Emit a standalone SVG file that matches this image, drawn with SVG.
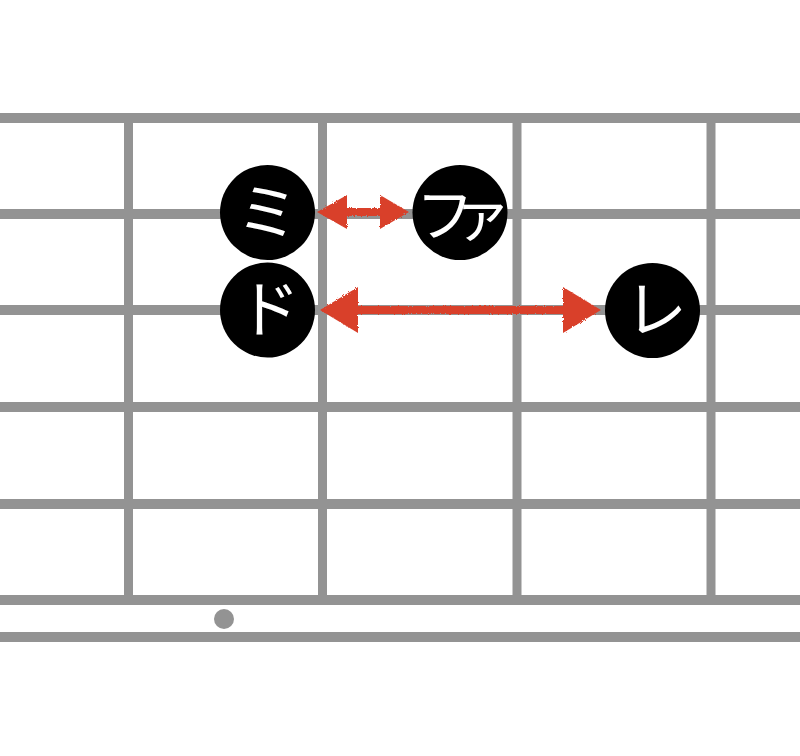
<svg xmlns="http://www.w3.org/2000/svg" width="800" height="756" viewBox="0 0 800 756">
<style>
.s{stroke:#939393;stroke-width:10;fill:none}
.f{stroke:#939393;stroke-width:9;fill:none}
.n{fill:#000}
.t{fill:#fff;font-family:"Noto Sans CJK JP",sans-serif;font-size:62px;font-weight:400;text-anchor:middle}
.fa{font-size:58px;letter-spacing:-21px;text-anchor:start}
.a{fill:#d9402b}
.sh{stroke:#d9402b;stroke-width:8;fill:none}
</style>
<defs>
<filter id="rough" x="-10%" y="-50%" width="120%" height="200%">
<feTurbulence type="fractalNoise" baseFrequency="0.9" numOctaves="2" result="n"/>
<feDisplacementMap in="SourceGraphic" in2="n" scale="3"/>
</filter>
</defs>
<rect width="800" height="756" fill="#fff"/>
<g id="fretboard">
<line class="f" x1="128.5" y1="118" x2="128.5" y2="600"/>
<line class="f" x1="322.5" y1="118" x2="322.5" y2="600"/>
<line class="f" x1="517" y1="118" x2="517" y2="600"/>
<line class="f" x1="711" y1="118" x2="711" y2="600"/>
<line class="s" x1="0" y1="118" x2="800" y2="118"/>
<line class="s" x1="0" y1="214" x2="800" y2="214"/>
<line class="s" x1="0" y1="310" x2="800" y2="310"/>
<line class="s" x1="0" y1="407" x2="800" y2="407"/>
<line class="s" x1="0" y1="504" x2="800" y2="504"/>
<line class="s" x1="0" y1="600" x2="800" y2="600"/>
<line class="s" x1="0" y1="637" x2="800" y2="637"/>
<circle cx="224" cy="619" r="10" fill="#939393"/>
</g>
<g id="connectors" filter="url(#rough)">
<line class="sh" x1="340" y1="212" x2="390" y2="212"/>
<polygon class="a" points="317,212 347,195 347,229"/>
<polygon class="a" points="409,212 380,195 380,229"/>
<line class="sh" x1="350" y1="310" x2="570" y2="310"/>
<polygon class="a" points="320,310 358,287 358,333"/>
<polygon class="a" points="601,310 563,287 563,333"/>
</g>
<g id="node-mi">
<circle class="n" cx="267.5" cy="212.5" r="47.5"/>
<text class="t" x="267.5" y="235">ミ</text>
</g>
<g id="node-do">
<circle class="n" cx="267.5" cy="310" r="47.5"/>
<text class="t" x="269" y="332">ド</text>
</g>
<g id="node-fa">
<circle class="n" cx="460" cy="212.5" r="47.5"/>
<text class="t fa" x="416" y="236">ファ</text>
</g>
<g id="node-re">
<circle class="n" cx="652.5" cy="310.5" r="47.5"/>
<text class="t" x="656" y="332">レ</text>
</g>
</svg>
